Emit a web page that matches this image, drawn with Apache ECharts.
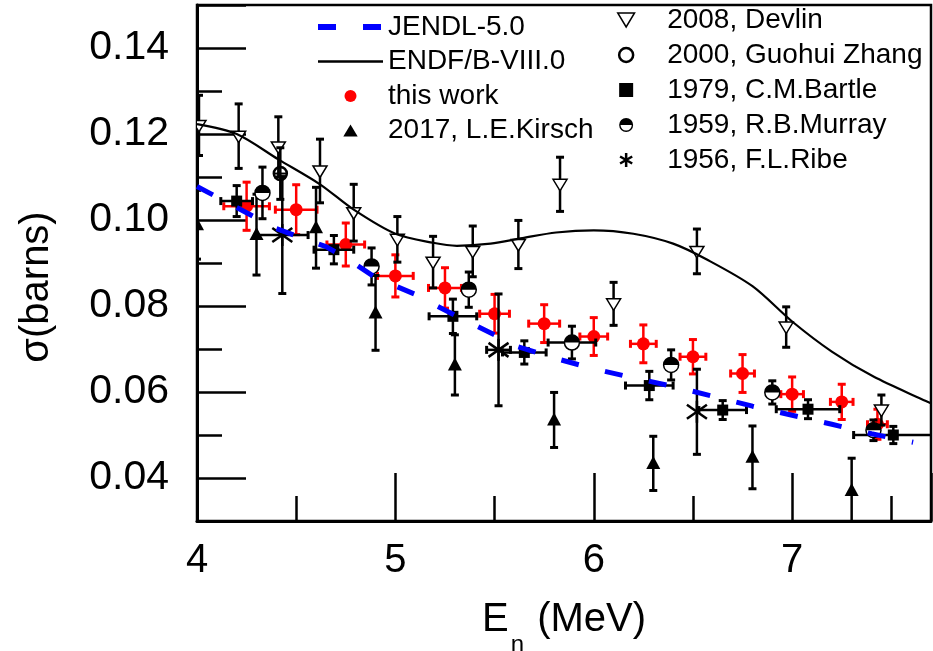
<!DOCTYPE html>
<html lang="en">
<head>
  <meta charset="UTF-8">
  <title>Cross section vs neutron energy</title>
  <script src="https://cdn.jsdelivr.net/npm/echarts@6/dist/echarts.min.js"></script>
  <style>html, body { margin: 0; padding: 0; background: #fff; }</style>
</head>
<body>
  <div id="app" style="width: 933px; height: 651px;"></div>
  <script>
    // evaluated data (En in MeV, sigma in barns)
    var endfE = [4.00, 4.20, 4.41, 4.62, 4.79, 5.00, 5.19, 5.31, 5.48, 5.64, 5.81, 6.00, 6.20, 6.40, 6.57, 6.80, 7.00, 7.20, 7.41, 7.70]
    var endfSig = [0.1223, 0.1200, 0.1141, 0.1083, 0.1024, 0.0968, 0.0947, 0.0940, 0.0945, 0.0958, 0.0971, 0.0976, 0.0968, 0.0945, 0.0908, 0.0846, 0.0764, 0.0694, 0.0636, 0.0574]
    var jendlE = [4.00, 4.40, 4.65, 4.75, 4.90, 5.10, 5.20, 5.35, 5.50, 5.60, 5.80, 6.00, 6.20, 6.40, 6.60, 6.80, 7.00, 7.20, 7.40, 7.61]
    var jendlSig = [0.1078, 0.0980, 0.0938, 0.0912, 0.0866, 0.0827, 0.0802, 0.0767, 0.0733, 0.0708, 0.0679, 0.0654, 0.0633, 0.0613, 0.0590, 0.0567, 0.0546, 0.0525, 0.0503, 0.0483]

    // measurements: [En, sigma, d sigma, d En]
    var thisWork = [
      [4.25, 0.1032, 0.0056, 0.115], [4.50, 0.1024, 0.0058, 0.105], [4.75, 0.0943, 0.0050, 0.095],
      [5.00, 0.0870, 0.0049, 0.090], [5.25, 0.0842, 0.0047, 0.083], [5.50, 0.0782, 0.0045, 0.075],
      [5.75, 0.0759, 0.0044, 0.078], [6.00, 0.0729, 0.0044, 0.070], [6.25, 0.0712, 0.0044, 0.065],
      [6.50, 0.0682, 0.0040, 0.065], [6.75, 0.0643, 0.0044, 0.060], [7.00, 0.0595, 0.0040, 0.057],
      [7.25, 0.0577, 0.0041, 0.057], [7.43, 0.0525, 0.0035, 0.050]
    ]
    var kirsch = [
      [4.00, 0.0989, 0.0080, 0], [4.30, 0.0966, 0.0094, 0], [4.60, 0.0982, 0.0094, 0],
      [4.90, 0.0784, 0.0087, 0], [5.30, 0.0663, 0.0070, 0], [5.80, 0.0535, 0.0064, 0],
      [6.30, 0.0434, 0.0063, 0], [6.80, 0.0448, 0.0073, 0], [7.30, 0.0371, 0.0075, 0]
    ]
    var devlin = [
      [4.01, 0.1220, 0.0070, 0], [4.21, 0.1195, 0.0075, 0], [4.41, 0.1170, 0.0070, 0],
      [4.62, 0.1114, 0.0074, 0], [4.79, 0.1017, 0.0066, 0], [5.01, 0.0955, 0.0053, 0],
      [5.19, 0.0902, 0.0060, 0], [5.39, 0.0927, 0.0059, 0], [5.62, 0.0943, 0.0056, 0],
      [5.83, 0.1083, 0.0063, 0], [6.10, 0.0805, 0.0050, 0], [6.52, 0.0927, 0.0052, 0],
      [6.97, 0.0751, 0.0047, 0], [7.45, 0.0558, 0.0035, 0]
    ]
    var zhang = [[4.42, 0.1108, 0.0060, 0]]
    var bartle = [
      [4.20, 0.1044, 0.0036, 0.08], [4.69, 0.0931, 0.0033, 0.10], [5.29, 0.0776, 0.0040, 0.12],
      [5.65, 0.0692, 0.0027, 0.11], [6.28, 0.0615, 0.0033, 0.12], [6.65, 0.0558, 0.0022, 0.12],
      [7.08, 0.0560, 0.0022, 0.16], [7.51, 0.0500, 0.0020, 0.20]
    ]
    var murray = [
      [4.33, 0.1063, 0.0060, 0], [4.88, 0.0892, 0.0043, 0], [5.37, 0.0838, 0.0041, 0],
      [5.89, 0.0715, 0.0038, 0.12], [6.39, 0.0663, 0.0035, 0], [6.90, 0.0599, 0.0027, 0],
      [7.41, 0.0511, 0.0024, 0]
    ]
    var ribe = [[4.43, 0.0965, 0.0136, 0.13], [5.52, 0.0698, 0.0130, 0.06], [6.52, 0.0554, 0.0099, 0]]

    var font = 'Liberation Sans, Arial, sans-serif'

    function pairs(xs, ys) {
      return xs.map(function (x, i) { return [x, ys[i]] })
    }

    function marker(kind, cx, cy) {
      if (kind == 'dot') {
        return [{ type: 'circle', shape: { cx: cx, cy: cy, r: 6.5 }, style: { fill: '#ff0000' } }]
      }
      if (kind == 'up') {
        return [{ type: 'polygon', shape: { points: [[cx, cy - 7.5], [cx - 7, cy + 5.5], [cx + 7, cy + 5.5]] }, style: { fill: '#000' } }]
      }
      if (kind == 'down') {
        return [{ type: 'polygon', shape: { points: [[cx - 7, cy - 5], [cx + 7, cy - 5], [cx, cy + 6.5]] }, style: { fill: '#fff', stroke: '#000', lineWidth: 1.5 } }]
      }
      if (kind == 'ring') {
        return [
          { type: 'circle', shape: { cx: cx, cy: cy, r: 6.5 }, style: { fill: 'none', stroke: '#000', lineWidth: 2.5 } },
          { type: 'line', shape: { x1: cx - 6, y1: cy, x2: cx + 6, y2: cy }, style: { stroke: '#000', lineWidth: 2 } }
        ]
      }
      if (kind == 'square') {
        return [{ type: 'rect', shape: { x: cx - 5.5, y: cy - 5.5, width: 11, height: 11 }, style: { fill: '#000' } }]
      }
      if (kind == 'half') {
        return [
          { type: 'circle', shape: { cx: cx, cy: cy, r: 7.5 }, style: { fill: '#fff', stroke: '#000', lineWidth: 1.5 } },
          { type: 'sector', shape: { cx: cx, cy: cy, r0: 0, r: 7.5, startAngle: Math.PI, endAngle: Math.PI * 2, clockwise: true }, style: { fill: '#000' } }
        ]
      }
      // asterisk
      var s = { stroke: '#000', lineWidth: 2.5 }
      return [
        { type: 'line', shape: { x1: cx, y1: cy - 11, x2: cx, y2: cy + 11 }, style: s },
        { type: 'line', shape: { x1: cx - 10, y1: cy - 7, x2: cx + 10, y2: cy + 7 }, style: s },
        { type: 'line', shape: { x1: cx - 10, y1: cy + 7, x2: cx + 10, y2: cy - 7 }, style: s }
      ]
    }

    function errRender(kind, color) {
      return function (params, api) {
        var x = api.value(0), y = api.value(1), dy = api.value(2) || 0, dx = api.value(3) || 0
        var p = api.coord([x, y])
        var kids = []
        var bar = { stroke: color, lineWidth: 2.5 }
        var cap = { stroke: color, lineWidth: 3 }
        if (dy > 0) {
          var t = api.coord([x, y + dy])[1], b = api.coord([x, y - dy])[1]
          kids.push({ type: 'line', shape: { x1: p[0], y1: t, x2: p[0], y2: b }, style: bar })
          kids.push({ type: 'line', shape: { x1: p[0] - 4, y1: t, x2: p[0] + 4, y2: t }, style: cap })
          kids.push({ type: 'line', shape: { x1: p[0] - 4, y1: b, x2: p[0] + 4, y2: b }, style: cap })
        }
        if (dx > 0) {
          var l = api.coord([x - dx, y])[0], r = api.coord([x + dx, y])[0]
          kids.push({ type: 'line', shape: { x1: l, y1: p[1], x2: r, y2: p[1] }, style: bar })
          kids.push({ type: 'line', shape: { x1: l, y1: p[1] - 4, x2: l, y2: p[1] + 4 }, style: cap })
          kids.push({ type: 'line', shape: { x1: r, y1: p[1] - 4, x2: r, y2: p[1] + 4 }, style: cap })
        }
        return { type: 'group', children: kids.concat(marker(kind, p[0], p[1])) }
      }
    }

    function pointSeries(name, data, kind, color) {
      return {
        name: name,
        type: 'custom',
        data: data,
        encode: { x: 0, y: 1 },
        clip: true,
        z: 2,
        itemStyle: { color: color },
        renderItem: errRender(kind, color)
      }
    }

    var mCharts = echarts.init(document.querySelector('#app'))

    var hidden = { color: 'transparent', borderWidth: 0 }
    var option = {
      animation: false,
      backgroundColor: '#fff',
      grid: { left: 197, right: 2, top: 5, bottom: 130, show: true, borderColor: '#000', borderWidth: 2.5, containLabel: false, outerBoundsMode: 'none' },
      legend: [
        {
          orient: 'vertical', left: 315, top: 13, padding: 0, itemWidth: 65, itemHeight: 12, itemGap: 6.5,
          selectedMode: false,
          textStyle: { fontSize: 28, fontFamily: font, color: '#000' },
          data: [
            { name: 'JENDL-5.0', itemStyle: hidden, lineStyle: { width: 6 } },
            { name: 'ENDF/B-VIII.0', itemStyle: hidden, lineStyle: { width: 2.5 } },
            { name: 'this work', icon: 'circle', itemStyle: { color: '#ff0000' } },
            { name: '2017, L.E.Kirsch', icon: 'path://M6,0L12,10L0,10Z', itemStyle: { color: '#000' } }
          ]
        },
        {
          orient: 'vertical', left: 617, top: 6, padding: 0, itemWidth: 72, itemHeight: 14, itemGap: 7,
          selectedMode: false,
          textStyle: { fontSize: 28, fontFamily: font, color: '#000' },
          data: [
            { name: '2008, Devlin', icon: 'path://M0,0L12,0L6,10Z', itemStyle: { color: '#fff', borderColor: '#000', borderWidth: 1.5 } },
            { name: '2000, Guohui Zhang', icon: 'circle', itemStyle: { color: '#fff', borderColor: '#000', borderWidth: 2.5 } },
            { name: '1979, C.M.Bartle', icon: 'path://M0,0L10,0L10,10L0,10Z', itemStyle: { color: '#000' } },
            { name: '1959, R.B.Murray', icon: 'path://M0,6A6,6,0,0,1,12,6ZM0,6A6,6,0,0,0,12,6L10.8,6A4.8,4.8,0,0,1,1.2,6Z', itemStyle: { color: '#000' } },
            { name: '1956, F.L.Ribe', icon: 'path://M6,0L6,12M0.8,3L11.2,9M0.8,9L11.2,3', itemStyle: { color: 'transparent', borderColor: '#000', borderWidth: 2.5 } }
          ]
        }
      ],
      xAxis: {
        type: 'value', min: 4, max: 7.7, interval: 1,
        axisLine: { show: true, lineStyle: { color: '#000', width: 3 } },
        axisTick: { show: true, inside: true, length: 48, lineStyle: { color: '#000', width: 2.5 } },
        minorTick: { show: true, splitNumber: 2, length: 25, lineStyle: { color: '#000', width: 2.5 } },
        splitLine: { show: false },
        axisLabel: {
          color: '#000', fontSize: 40, fontFamily: font, margin: 20,
          formatter: function (v) { return Math.abs(v - Math.round(v)) < 1e-6 ? String(Math.round(v)) : '' }
        },
        name: '{a|E}{s|n}{a| (MeV)}', nameLocation: 'middle', nameGap: 79,
        nameTextStyle: {
          rich: {
            a: { fontSize: 40, fontFamily: font, color: '#000', lineHeight: 44, verticalAlign: 'top' },
            s: { fontSize: 24, fontFamily: font, color: '#000', lineHeight: 24, verticalAlign: 'top', padding: [33, 2, 0, 2] }
          }
        }
      },
      yAxis: {
        type: 'value', min: 0.03, max: 0.15, splitNumber: 6,
        axisLine: { show: true, lineStyle: { color: '#000', width: 3 } },
        axisTick: { show: true, inside: true, length: 49, lineStyle: { color: '#000', width: 2.5 } },
        minorTick: { show: true, splitNumber: 2, length: 25, lineStyle: { color: '#000', width: 2.5 } },
        splitLine: { show: false },
        axisLabel: {
          color: '#000', fontSize: 41, fontFamily: font, margin: 28,
          formatter: function (v) { return Math.round(v * 100) % 2 == 0 ? v.toFixed(2) : '' }
        },
        name: 'σ(barns)', nameLocation: 'middle', nameGap: 140,
        nameTextStyle: { fontSize: 40, fontFamily: font, color: '#000', padding: [0, 48, 0, 0] }
      },
      series: [
        pointSeries('this work', thisWork, 'dot', '#ff0000'),
        pointSeries('2017, L.E.Kirsch', kirsch, 'up', '#000'),
        pointSeries('2008, Devlin', devlin, 'down', '#000'),
        pointSeries('2000, Guohui Zhang', zhang, 'ring', '#000'),
        pointSeries('1979, C.M.Bartle', bartle, 'square', '#000'),
        pointSeries('1959, R.B.Murray', murray, 'half', '#000'),
        pointSeries('1956, F.L.Ribe', ribe, 'star', '#000'),
        {
          name: 'JENDL-5.0', type: 'line', data: pairs(jendlE, jendlSig), z: 3,
          symbol: 'none', showSymbol: false, clip: true,
          itemStyle: { color: '#0000ff' },
          lineStyle: { color: '#0000ff', width: 5, type: [18, 27] }
        },
        {
          name: 'ENDF/B-VIII.0', type: 'line', data: pairs(endfE, endfSig), z: 3,
          symbol: 'none', showSymbol: false, clip: true, smooth: 0.3,
          itemStyle: { color: '#000' },
          lineStyle: { color: '#000', width: 2.2 }
        }
      ]
    }
    mCharts.setOption(option)
  </script>
</body>
</html>
